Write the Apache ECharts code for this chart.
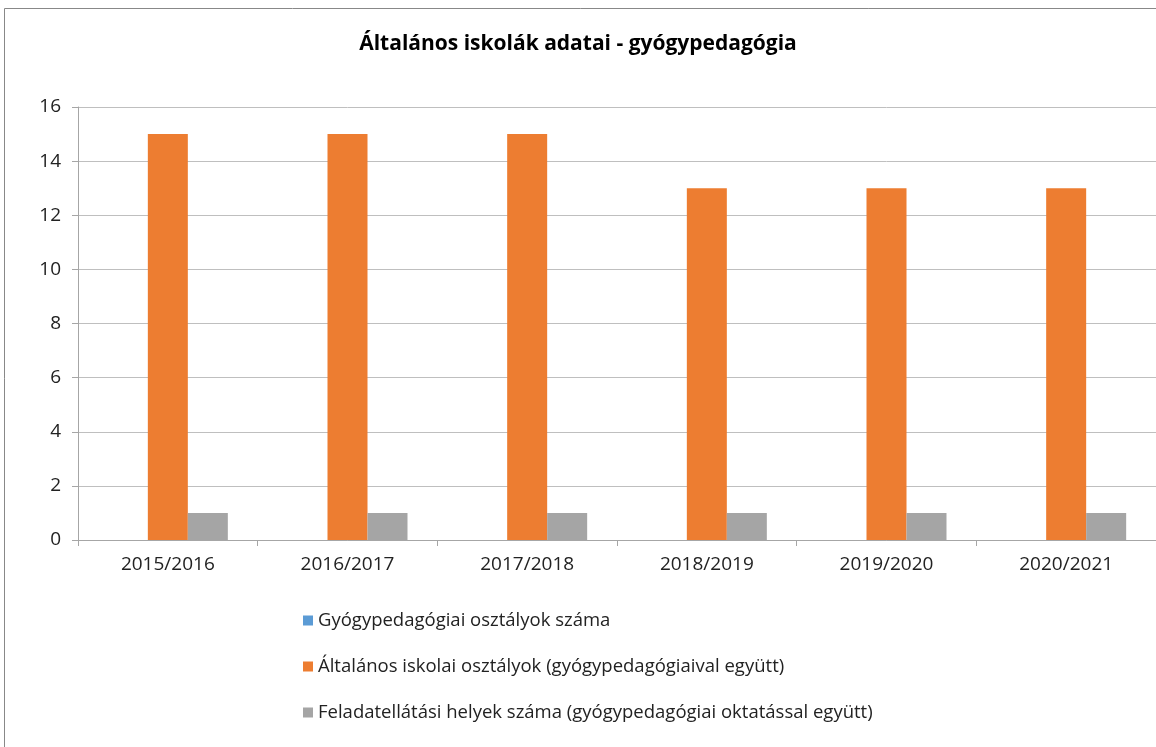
<!DOCTYPE html>
<html>
<head>
<meta charset="utf-8">
<script src="https://cdn.jsdelivr.net/npm/echarts@6/dist/echarts.min.js"></script>
<style>
  html, body { margin: 0; padding: 0; background: #fff; }
  #chart { width: 1156px; height: 747px; }
</style>
</head>
<body>
<div id="chart"></div>
<script>
const years = ['2015/2016', '2016/2017', '2017/2018', '2018/2019', '2019/2020', '2020/2021']
const specialClasses = [0, 0, 0, 0, 0, 0]
const allClasses = [15, 15, 15, 13, 13, 13]
const sites = [1, 1, 1, 1, 1, 1]
const seriesNames = [
  'Gyógypedagógiai osztályok száma',
  'Általános iskolai osztályok (gyógypedagógiaival együtt)',
  'Feladatellátási helyek száma (gyógypedagógiai oktatással együtt)'
]

const font = 'Open Sans'
const chart = echarts.init(document.getElementById('chart'))

chart.setOption({
  animation: false,
  title: {
    text: 'Általános iskolák adatai - gyógypedagógia',
    left: 'center',
    top: 29,
    textStyle: { fontFamily: font, fontSize: 21, fontWeight: 'bold', color: '#000' }
  },
  graphic: [{
    type: 'rect',
    shape: { x: 4.5, y: 8.5, width: 1200, height: 800 },
    style: { fill: 'none', stroke: '#888', lineWidth: 1 },
    silent: true
  }],
  legend: {
    orient: 'vertical',
    left: 298,
    top: 606,
    itemWidth: 10,
    itemHeight: 10,
    itemGap: 27,
    icon: 'rect',
    textStyle: { fontFamily: font, fontSize: 18.5, color: '#222' },
    data: seriesNames
  },
  grid: { left: 78, width: 1080, top: 107, bottom: 207 },
  xAxis: {
    type: 'category',
    data: years,
    axisLine: { lineStyle: { color: '#a6a6a6' } },
    axisTick: { show: true, length: 6, lineStyle: { color: '#a6a6a6' } },
    axisLabel: { fontFamily: font, fontSize: 19, color: '#222', margin: 15 }
  },
  yAxis: {
    type: 'value',
    min: 0,
    max: 16,
    interval: 2,
    axisLine: { show: true, lineStyle: { color: '#a6a6a6' } },
    axisTick: { show: true, length: 6, lineStyle: { color: '#a6a6a6' } },
    axisLabel: { fontFamily: font, fontSize: 19, color: '#222', margin: 17 },
    splitLine: { lineStyle: { color: '#bfbfbf' } }
  },
  series: [
    { name: seriesNames[0], type: 'bar', data: specialClasses, barWidth: 40, barGap: '0%', itemStyle: { color: '#5b9bd5' } },
    { name: seriesNames[1], type: 'bar', data: allClasses, barWidth: 40, barGap: '0%', itemStyle: { color: '#ed7d31' } },
    { name: seriesNames[2], type: 'bar', data: sites, barWidth: 40, barGap: '0%', itemStyle: { color: '#a5a5a5' } }
  ]
})
</script>
</body>
</html>
